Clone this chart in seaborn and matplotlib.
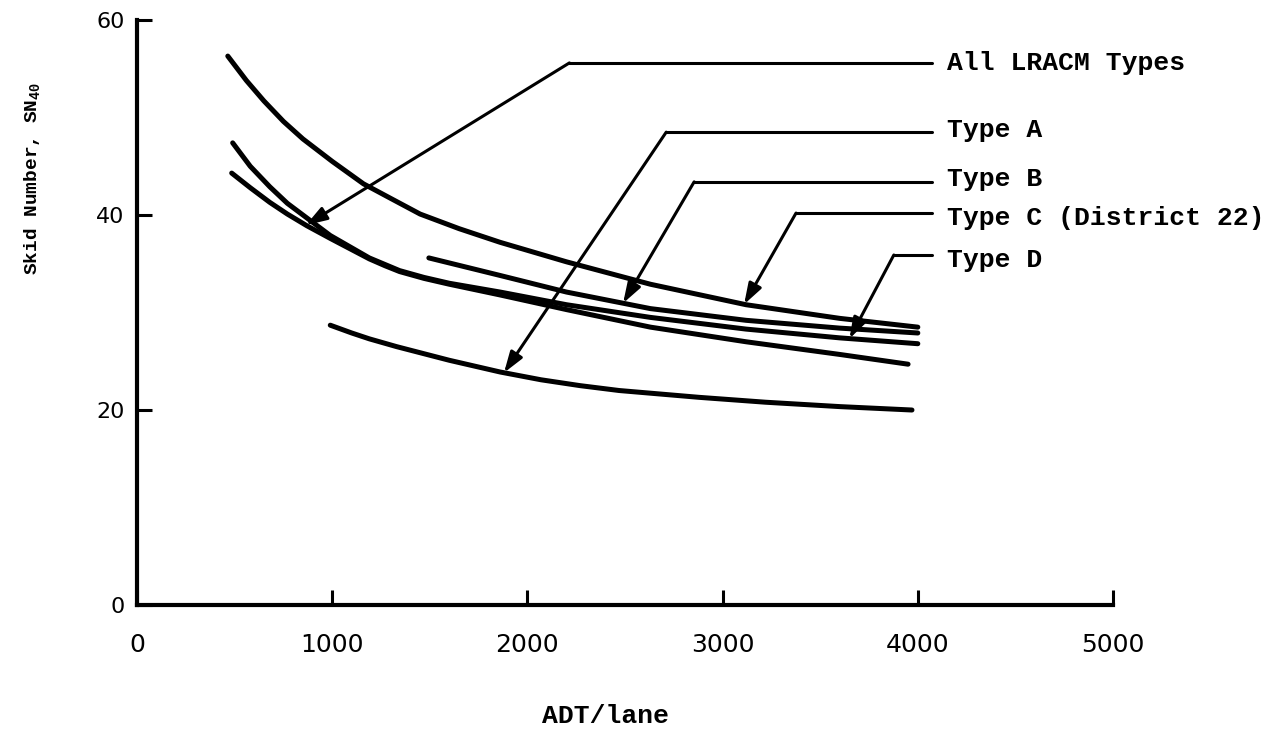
import numpy as np
import matplotlib
matplotlib.use("Agg")
import matplotlib.pyplot as plt
import seaborn as sns

# curves (ADT/lane, SN40)
type_c_x = [465, 560, 650, 750, 850, 1000, 1160, 1300, 1450, 1650, 1860, 2200,
            2630, 3120, 3600, 4000]
type_c_y = [56.3, 53.8, 51.7, 49.6, 47.8, 45.5, 43.2, 41.7, 40.1, 38.6, 37.2, 35.2,
            32.9, 30.8, 29.4, 28.5]

type_b_x = [1495, 1860, 2200, 2630, 3120, 3600, 4000]
type_b_y = [35.6, 33.8, 32.1, 30.4, 29.2, 28.4, 27.9]

type_d_x = [490, 580, 680, 770, 870, 990, 1190, 1345, 1470, 1600, 1860, 2200,
            2630, 3120, 3600, 4000]
type_d_y = [47.4, 45.0, 42.9, 41.2, 39.7, 37.9, 35.6, 34.3, 33.6, 33.0, 32.1, 30.8,
            29.5, 28.3, 27.4, 26.8]

all_x = [485, 580, 680, 770, 870, 990, 1190, 1270, 1345, 1470, 1600, 1860, 2200,
         2630, 3120, 3600, 3950]
all_y = [44.3, 42.8, 41.3, 40.1, 38.9, 37.6, 35.5, 34.8, 34.2, 33.5, 32.9, 31.8, 30.3,
         28.5, 27.0, 25.7, 24.7]

type_a_x = [990, 1100, 1190, 1330, 1600, 1860, 2070, 2270, 2470, 2880, 3220, 3600, 3970]
type_a_y = [28.7, 27.9, 27.3, 26.5, 25.1, 23.9, 23.1, 22.5, 22.0, 21.3, 20.8, 20.35, 20.0]

x_ticks = [0, 1000, 2000, 3000, 4000, 5000]
y_ticks = [0, 20, 40, 60]

labels = ["All LRACM Types", "Type A", "Type B", "Type C (District 22)", "Type D"]

sns.set_style("ticks")
plt.rcParams["font.family"] = ["DejaVu Sans"]
plt.rcParams["mathtext.fontset"] = "custom"
plt.rcParams["mathtext.rm"] = "Liberation Mono:bold"
plt.rcParams["mathtext.it"] = "Liberation Mono:bold"
for k in ["text.color", "axes.labelcolor", "xtick.color", "ytick.color", "axes.edgecolor"]:
    plt.rcParams[k] = "black"

fig = plt.figure(figsize=(12.77, 7.41), dpi=100)
ax = fig.add_axes([0.1073, 0.1835, 0.7643, 0.7895])

curves = [(type_c_x, type_c_y), (type_b_x, type_b_y), (type_d_x, type_d_y),
          (all_x, all_y), (type_a_x, type_a_y)]
for xs, ys in curves:
    sns.lineplot(x=xs, y=ys, ax=ax, color="black", linewidth=3.6,
                 sort=False, estimator=None, solid_capstyle="round",
                 solid_joinstyle="round")

ax.set_xlim(0, 5000)
ax.set_ylim(0, 60)
ax.set_xticks(x_ticks)
ax.set_yticks(y_ticks)
ax.tick_params(axis="x", direction="in", length=11, width=2.2, pad=20, labelsize=18)
ax.tick_params(axis="y", direction="in", length=11, width=2.2, pad=9, labelsize=16)
for s in ["top", "right"]:
    ax.spines[s].set_visible(False)
for s in ["left", "bottom"]:
    ax.spines[s].set_linewidth(3)

# leader lines: (curve, tip x, corner x, corner y, text y)
mono = "Liberation Mono"
leaders = [
    ((all_x, all_y), 865, 2215, 55.6, 55.6),
    ((type_a_x, type_a_y), 1880, 2711, 48.5, 48.7),
    ((type_b_x, type_b_y), 2490, 2854, 43.4, 43.7),
    ((type_c_x, type_c_y), 3110, 3376, 40.2, 39.7),
    ((type_d_x, type_d_y), 3650, 3877, 35.9, 35.4),
]
for lab, (crv, tx, cx, cy, ty) in zip(labels, leaders):
    tip_y = np.interp(tx, crv[0], crv[1])
    ax.plot([cx, 4075], [cy, cy], color="black", lw=2.2, clip_on=False)
    ax.annotate("", xy=(tx, tip_y), xytext=(cx, cy),
                arrowprops=dict(arrowstyle="-|>,head_length=0.9,head_width=0.3",
                                mutation_scale=14, color="black", lw=2.2,
                                shrinkA=0, shrinkB=0))
    ax.text(4150, ty, lab, fontsize=19, family=mono, fontweight="bold",
            ha="left", va="center", clip_on=False)

ax.set_xlabel("")
ax.set_ylabel("")
fig.text(606 / 1277, 1 - 716 / 741, "ADT/lane", fontsize=19, family=mono,
         fontweight="bold", ha="center", va="center")
fig.text(32 / 1277, 1 - 178 / 741, "Skid Number, SN$_{40}$", fontsize=14,
         family=mono, fontweight="bold", rotation=90, ha="center", va="center")

fig.savefig("out.png", dpi=100, facecolor="white")
